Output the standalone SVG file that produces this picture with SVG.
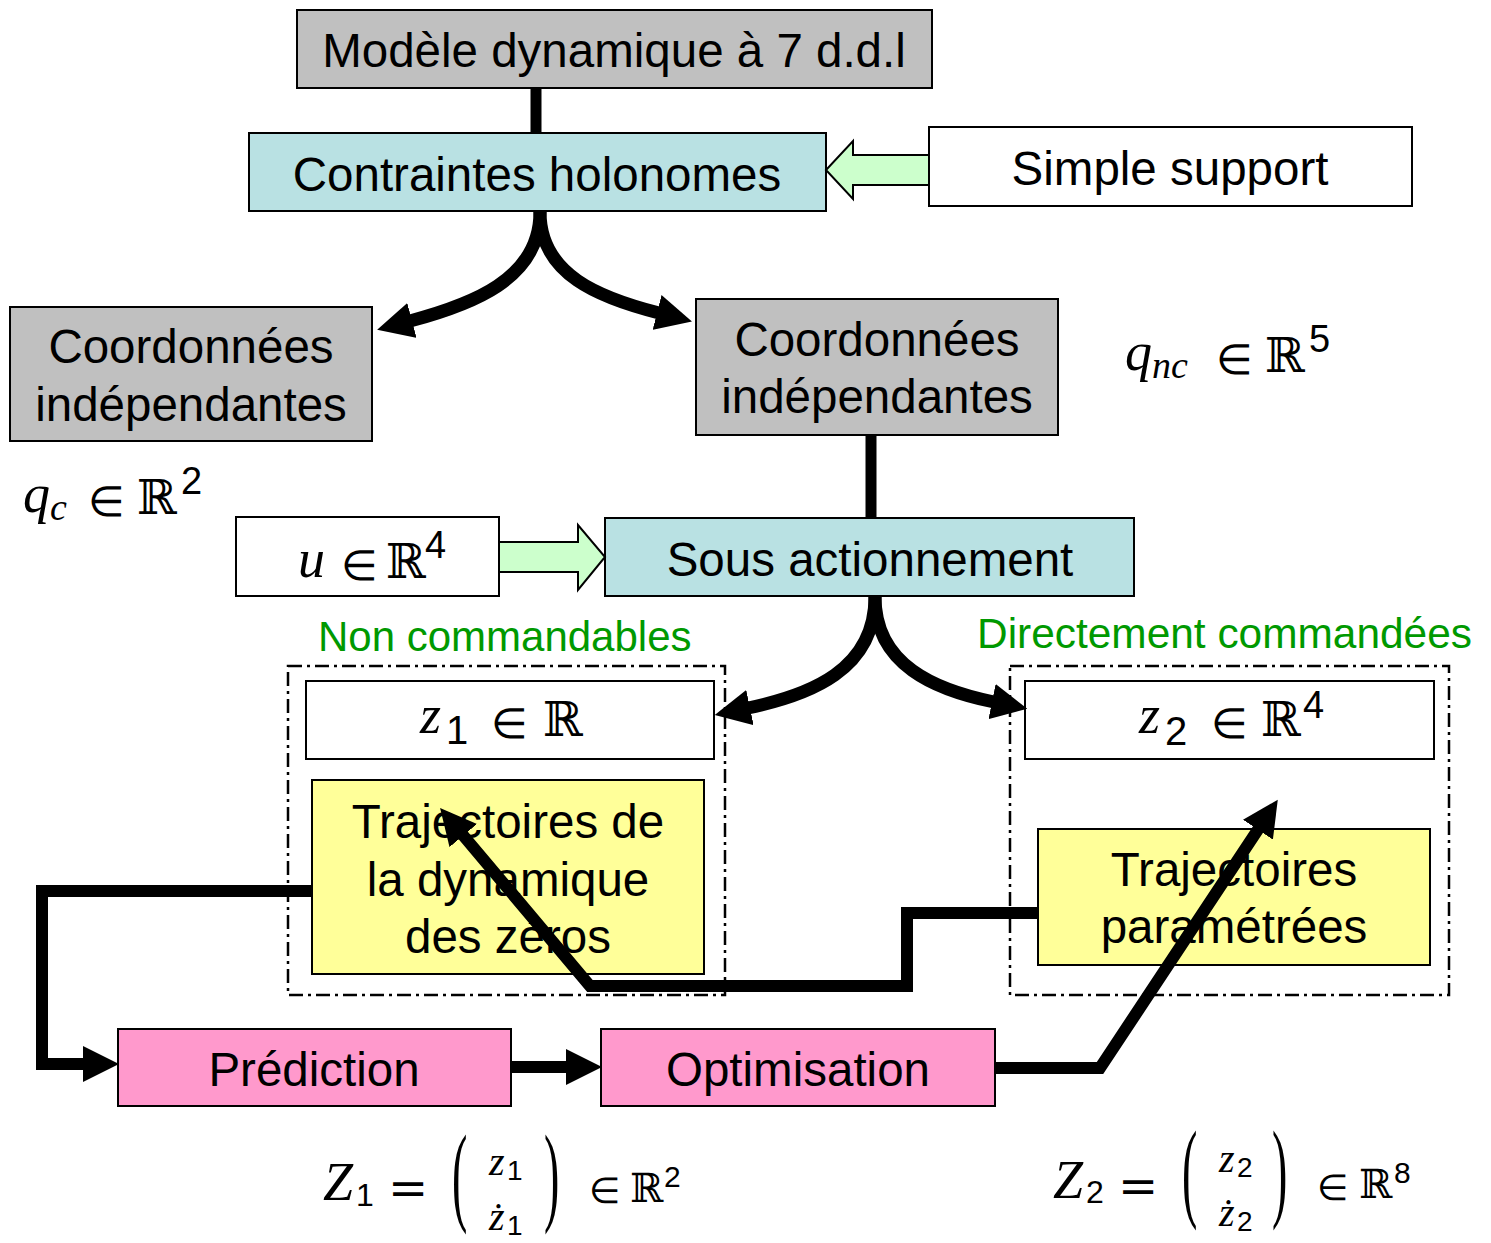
<svg xmlns="http://www.w3.org/2000/svg" width="1491" height="1243" viewBox="0 0 1491 1243">
  <style>
    .box { stroke: #000; stroke-width: 2; }
    .gray { fill: #C0C0C0; }
    .blue { fill: #B9E1E3; }
    .white { fill: #FFFFFF; }
    .yellow { fill: #FFFF99; }
    .pink { fill: #FF99CC; }
    .lbl { font-family: "Liberation Sans", Arial, sans-serif; font-size: 47.5px; fill: #000; text-anchor: middle; }
    .grn { font-family: "Liberation Sans", Arial, sans-serif; font-size: 42px; fill: #009900; }
    .group { fill: none; stroke: #000; stroke-width: 2.5; stroke-dasharray: 14 5 3 5; }
    .wire { fill: none; stroke: #000; stroke-width: 12; }
    .curve { fill: none; stroke: #000; stroke-width: 13; }
    .block { fill: #CCFFCC; stroke: #000; stroke-width: 2; }
    .m { font-family: "Liberation Serif", "DejaVu Serif", serif; font-style: italic; fill: #000; }
    .sym { font-family: "DejaVu Serif", serif; font-style: normal; fill: #000; }
    .in { font-family: "DejaVu Sans", sans-serif; font-weight: 200; font-style: normal; fill: #000; }
    .par { font-family: "Liberation Serif", "DejaVu Serif", serif; font-style: normal; fill: #000; }
    .num { font-family: "Liberation Sans", Arial, sans-serif; font-style: normal; fill: #000; }
  </style>
  <defs>
    <marker id="head" markerUnits="userSpaceOnUse" viewBox="0 0 36 36" markerWidth="36" markerHeight="36" refX="2" refY="18" orient="auto">
      <path d="M0,0 L36,18 L0,36 z" fill="#000"/>
    </marker>
  </defs>

  <!-- dash-dot groupings -->
  <g id="group-noncmd">
    <rect class="group" x="288" y="666" width="437" height="329"/>
    <text class="grn" x="318" y="651">Non commandables</text>
  </g>
  <g id="group-cmd">
    <rect class="group" x="1010" y="666" width="439" height="329"/>
    <text class="grn" x="977" y="648" textLength="495" lengthAdjust="spacingAndGlyphs">Directement commandées</text>
  </g>

  <!-- nodes -->
  <g id="modele">
    <rect class="box gray" x="297" y="10" width="635" height="78"/>
    <text class="lbl" x="614" y="67">Modèle dynamique à 7 d.d.l</text>
  </g>
  <g id="contraintes">
    <rect class="box blue" x="249" y="133" width="577" height="78"/>
    <text class="lbl" x="537" y="191">Contraintes holonomes</text>
  </g>
  <g id="support">
    <rect class="box white" x="929" y="127" width="483" height="79"/>
    <text class="lbl" x="1170" y="185">Simple support</text>
  </g>
  <g id="coord-c">
    <rect class="box gray" x="10" y="307" width="362" height="134"/>
    <text class="lbl" x="191" y="363">Coordonnées</text>
    <text class="lbl" x="191" y="421">indépendantes</text>
  </g>
  <g id="coord-nc">
    <rect class="box gray" x="696" y="299" width="362" height="136"/>
    <text class="lbl" x="877" y="356">Coordonnées</text>
    <text class="lbl" x="877" y="413">indépendantes</text>
  </g>
  <g id="qnc">
    <text class="m" x="1125" y="370" font-size="54">q<tspan font-size="38" dy="8">nc</tspan></text>
    <text class="in" x="1216" y="374" font-size="42">∈</text>
    <text class="sym" x="1265" y="372" font-size="48">ℝ</text>
    <text class="num" x="1309" y="352" font-size="38">5</text>
  </g>
  <g id="qc">
    <text class="m" x="23" y="512" font-size="54">q<tspan font-size="38" dy="8">c</tspan></text>
    <text class="in" x="88" y="516" font-size="42">∈</text>
    <text class="sym" x="137" y="514" font-size="48">ℝ</text>
    <text class="num" x="181" y="494" font-size="38">2</text>
  </g>
  <g id="u">
    <rect class="box white" x="236" y="517" width="263" height="79"/>
    <text class="m" x="298" y="577" font-size="54">u</text>
    <text class="in" x="341" y="580" font-size="42">∈</text>
    <text class="sym" x="386" y="578" font-size="48">ℝ</text>
    <text class="num" x="425" y="558" font-size="38">4</text>
  </g>
  <g id="sous-act">
    <rect class="box blue" x="605" y="518" width="529" height="78"/>
    <text class="lbl" x="870" y="576">Sous actionnement</text>
  </g>
  <g id="z1">
    <rect class="box white" x="306" y="681" width="408" height="78"/>
    <text class="m" x="420" y="733" font-size="54">z</text>
    <text class="num" x="446" y="744" font-size="40">1</text>
    <text class="in" x="491" y="738" font-size="42">∈</text>
    <text class="sym" x="543" y="736" font-size="48">ℝ</text>
  </g>
  <g id="z2">
    <rect class="box white" x="1025" y="681" width="409" height="78"/>
    <text class="m" x="1139" y="733" font-size="54">z</text>
    <text class="num" x="1165" y="745" font-size="40">2</text>
    <text class="in" x="1211" y="738" font-size="42">∈</text>
    <text class="sym" x="1261" y="736" font-size="48">ℝ</text>
    <text class="num" x="1303" y="718" font-size="38">4</text>
  </g>
  <g id="traj-zeros">
    <rect class="box yellow" x="312" y="780" width="392" height="194"/>
    <text class="lbl" x="508" y="838">Trajectoires de</text>
    <text class="lbl" x="508" y="896">la dynamique</text>
    <text class="lbl" x="508" y="953">des zéros</text>
  </g>
  <g id="traj-param">
    <rect class="box yellow" x="1038" y="829" width="392" height="136"/>
    <text class="lbl" x="1234" y="886">Trajectoires</text>
    <text class="lbl" x="1234" y="943">paramétrées</text>
  </g>
  <g id="prediction">
    <rect class="box pink" x="118" y="1029" width="393" height="77"/>
    <text class="lbl" x="314" y="1086">Prédiction</text>
  </g>
  <g id="optimisation">
    <rect class="box pink" x="601" y="1029" width="394" height="77"/>
    <text class="lbl" x="798" y="1086">Optimisation</text>
  </g>
  <g id="Z1">
    <text class="m" x="323" y="1200" font-size="54">Z</text>
    <text class="num" x="356" y="1206" font-size="32">1</text>
    <text class="sym" x="388" y="1205" font-size="48">=</text>
    <text class="par" transform="translate(452,1211) scale(1,2.4)" font-size="46">(</text>
    <text class="m" x="489" y="1175" font-size="40">z</text>
    <text class="num" x="507" y="1180" font-size="28">1</text>
    <text class="m" x="489" y="1230" font-size="40">ż</text>
    <text class="num" x="507" y="1235" font-size="28">1</text>
    <text class="par" transform="translate(544,1211) scale(1,2.4)" font-size="46">)</text>
    <text class="in" x="589" y="1203" font-size="36">∈</text>
    <text class="sym" x="630" y="1202" font-size="40">ℝ</text>
    <text class="num" x="664" y="1187" font-size="30">2</text>
  </g>
  <g id="Z2">
    <text class="m" x="1053" y="1198" font-size="54">Z</text>
    <text class="num" x="1086" y="1203" font-size="32">2</text>
    <text class="sym" x="1118" y="1203" font-size="48">=</text>
    <text class="par" transform="translate(1182,1207) scale(1,2.4)" font-size="46">(</text>
    <text class="m" x="1219" y="1172" font-size="40">z</text>
    <text class="num" x="1237" y="1177" font-size="28">2</text>
    <text class="m" x="1219" y="1226" font-size="40">ż</text>
    <text class="num" x="1237" y="1231" font-size="28">2</text>
    <text class="par" transform="translate(1272,1207) scale(1,2.4)" font-size="46">)</text>
    <text class="in" x="1317" y="1200" font-size="36">∈</text>
    <text class="sym" x="1359" y="1198" font-size="40">ℝ</text>
    <text class="num" x="1394" y="1183" font-size="30">8</text>
  </g>

  <!-- connectors -->
  <g id="connectors">
    <line class="wire" x1="536" y1="88" x2="536" y2="133" style="stroke-width:11"/>
    <line class="wire" x1="871" y1="435" x2="871" y2="518" style="stroke-width:11"/>
    <path class="block" d="M929,155 L853,155 L853,141 L826,170 L853,199 L853,185 L929,185 z"/>
    <path class="block" d="M499,542 L578,542 L578,525 L605,557 L578,590 L578,572 L499,572 z"/>
    <path class="curve" d="M540,212 C540,280 470,305 410,321" marker-end="url(#head)"/>
    <path class="curve" d="M540,212 C540,275 600,298 659,313" marker-end="url(#head)"/>
    <path class="curve" d="M875,597 C875,670 810,695 748,708" marker-end="url(#head)"/>
    <path class="curve" d="M875,597 C875,665 935,690 994,702" marker-end="url(#head)"/>
    <path class="wire" d="M312,891 L42,891 L42,1064 L85,1064" marker-end="url(#head)"/>
    <path class="wire" d="M511,1067 L568,1067" marker-end="url(#head)"/>
    <path class="wire" d="M995,1068 L1100,1068 L1259,828" marker-end="url(#head)"/>
    <path class="wire" d="M1038,913 L907,913 L907,986 L590,986 L462,834" marker-end="url(#head)"/>
  </g>
</svg>
